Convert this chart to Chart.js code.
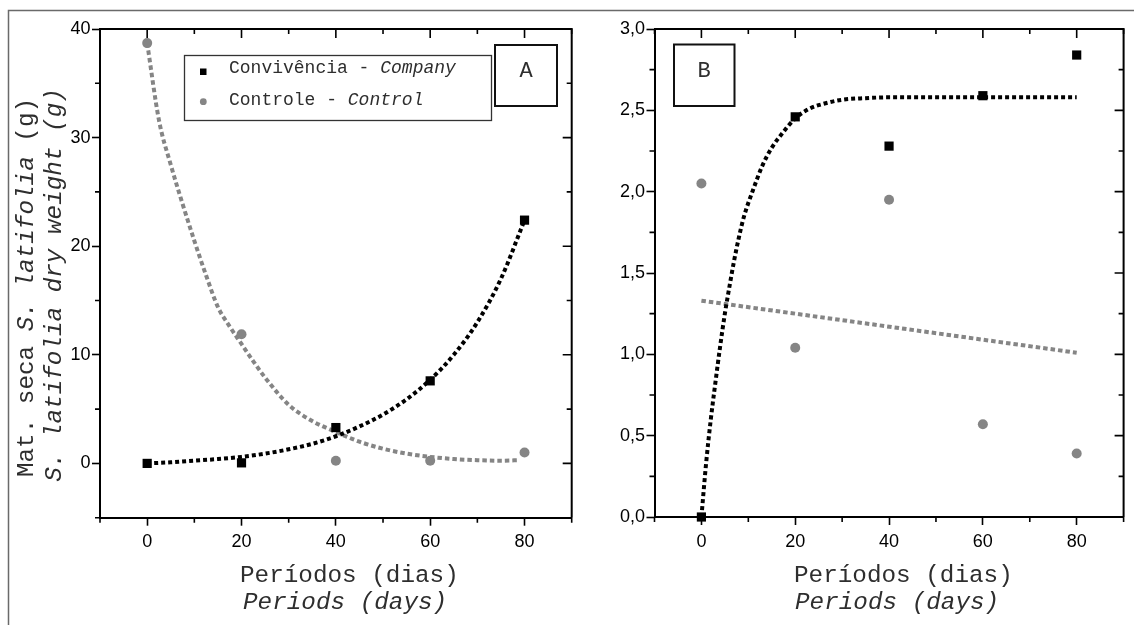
<!DOCTYPE html>
<html><head><meta charset="utf-8">
<script src="https://cdn.jsdelivr.net/npm/chart.js@4.4.1/dist/chart.umd.min.js"></script>
<style>
html,body{margin:0;padding:0;background:#fff;}
#wrap{position:relative;width:1134px;height:625px;overflow:hidden;background:#fff;}
canvas{position:absolute;left:0;top:0;}
</style>
</head><body>
<div id="wrap"><canvas id="cA" width="1134" height="625"></canvas><canvas id="cB" width="1134" height="625"></canvas></div>
<script>
// ---- observed points ----
const days = [0, 20, 40, 60, 80];
const aCompany = [0, 0.05, 3.3, 7.6, 22.4];
const aControl = [38.7, 11.9, 0.25, 0.25, 1.0];
const bCompany = [0, 2.46, 2.28, 2.59, 2.84];
const bControl = [2.05, 1.04, 1.95, 0.57, 0.39];

// ---- fitted curves ----
const aCompanyFitX = [0, 5, 10, 15, 20, 25, 30, 35, 40, 45, 50, 55, 60, 65, 70, 75, 80];
const aCompanyFitY = [0, 0.1, 0.25, 0.4, 0.6, 0.9, 1.3, 1.8, 2.5, 3.4, 4.5, 5.9, 7.7, 10.0, 13.0, 17.0, 22.4];
const aControlFitX = [0, 2.5, 5, 7.5, 10, 12.5, 15, 17.5, 20, 22.5, 25, 30, 35, 40, 45, 50, 55, 60, 65, 70, 75, 79];
const aControlFitY = [38.7, 31.6, 27.5, 23.9, 20.5, 17.3, 14.4, 12.6, 11.0, 9.4, 7.9, 5.4, 3.9, 2.9, 2.0, 1.35, 0.9, 0.6, 0.4, 0.3, 0.25, 0.3];
const bCompanyFitX = [0, 1, 2, 3, 4, 5, 6, 7, 8, 9, 11, 13, 15, 17, 20, 23, 26, 30, 35, 40, 60, 80];
const bCompanyFitY = [0, 0.33, 0.6, 0.83, 1.05, 1.25, 1.42, 1.58, 1.72, 1.84, 2.01, 2.16, 2.27, 2.35, 2.45, 2.51, 2.54, 2.565, 2.575, 2.58, 2.58, 2.58];
const bControlFitX = [0, 80];
const bControlFitY = [1.33, 1.01];

// ---- ticks ----
const xTicks = [0, 20, 40, 60, 80];
const xMinorTicks = [-10, 10, 30, 50, 70, 90];
const aYTicks = [0, 10, 20, 30, 40];
const aYMinorTicks = [-5, 5, 15, 25, 35];
const bYTicks = [0, 0.5, 1, 1.5, 2, 2.5, 3];
const bYMinorTicks = [0.25, 0.75, 1.25, 1.75, 2.25, 2.75];

const MONO = '"Liberation Mono", "DejaVu Sans Mono", monospace';
const SANS = '"Liberation Sans", Arial, sans-serif';
const GRAY = '#858585';
const TXT = '#2e2e2e';

function pts(xs, ys) { return xs.map((x, i) => ({x: x, y: ys[i]})); }

function richWidth(ctx, parts, size) {
  let w = 0;
  for (const [t, it] of parts) { ctx.font = (it ? 'italic ' : '') + size + 'px ' + MONO; w += ctx.measureText(t).width; }
  return w;
}
function drawRich(ctx, parts, x, y, size, align) {
  const w = richWidth(ctx, parts, size);
  let cx = align === 'center' ? x - w / 2 : x;
  ctx.textAlign = 'left'; ctx.textBaseline = 'alphabetic'; ctx.fillStyle = TXT;
  for (const [t, it] of parts) {
    ctx.font = (it ? 'italic ' : '') + size + 'px ' + MONO;
    ctx.fillText(t, cx, y);
    cx += ctx.measureText(t).width;
  }
}

const boxTicks = {
  id: 'boxTicks',
  afterDraw(chart, args, o) {
    const ctx = chart.ctx, ca = chart.chartArea, xs = chart.scales.x, ys = chart.scales.y;
    ctx.save();
    ctx.strokeStyle = '#000';
    ctx.lineWidth = 2;
    ctx.beginPath();
    ctx.moveTo(ca.left, ca.top); ctx.lineTo(ca.right, ca.top); ctx.lineTo(ca.right, ca.bottom);
    ctx.stroke();
    ctx.lineWidth = 1.6;
    ctx.beginPath();
    for (const v of o.xMajor) { const p = xs.getPixelForValue(v); ctx.moveTo(p, ca.top); ctx.lineTo(p, ca.top + 9); }
    for (const v of o.xMinor) {
      const p = xs.getPixelForValue(v);
      ctx.moveTo(p, ca.top); ctx.lineTo(p, ca.top + 5);
      ctx.moveTo(p, ca.bottom); ctx.lineTo(p, ca.bottom + 5);
    }
    for (const v of o.yMajor) { const p = ys.getPixelForValue(v); ctx.moveTo(ca.right, p); ctx.lineTo(ca.right - 9, p); }
    for (const v of o.yMinor) {
      const p = ys.getPixelForValue(v);
      ctx.moveTo(ca.right, p); ctx.lineTo(ca.right - 5, p);
      ctx.moveTo(ca.left, p); ctx.lineTo(ca.left - 5, p);
    }
    ctx.stroke();
    ctx.restore();
  }
};

const annotA = {
  id: 'annotA',
  afterDraw(chart) {
    const ctx = chart.ctx;
    ctx.save();
    // outer frame
    ctx.strokeStyle = '#6a6a6a'; ctx.lineWidth = 1.5;
    ctx.beginPath(); ctx.moveTo(8.5, 625); ctx.lineTo(8.5, 10.5); ctx.lineTo(1134, 10.5); ctx.stroke();
    // y titles
    ctx.save(); ctx.translate(33, 287.5); ctx.rotate(-Math.PI / 2);
    drawRich(ctx, [['Mat. seca ', false], ['S. latifolia', true], [' (g)', false]], 0, 0, 24.3, 'center');
    ctx.restore();
    ctx.save(); ctx.translate(61, 285); ctx.rotate(-Math.PI / 2);
    drawRich(ctx, [['S. latifolia dry weight (g)', true]], 0, 0, 24.3, 'center');
    ctx.restore();
    // x titles
    drawRich(ctx, [['Períodos (dias)', false]], 240, 581.5, 24.3, 'left');
    drawRich(ctx, [['Periods (days)', true]], 243, 608.5, 24.3, 'left');
    // legend
    ctx.strokeStyle = '#333'; ctx.lineWidth = 1.3;
    ctx.strokeRect(184.5, 55.5, 307, 65);
    ctx.fillStyle = '#000'; ctx.fillRect(200, 68.5, 6.5, 6.5);
    ctx.fillStyle = GRAY; ctx.beginPath(); ctx.arc(203.3, 101.7, 3.4, 0, Math.PI * 2); ctx.fill();
    drawRich(ctx, [['Convivência - ', false], ['Company', true]], 229, 72.5, 18, 'left');
    drawRich(ctx, [['Controle - ', false], ['Control', true]], 229, 104.5, 18, 'left');
    // A box
    ctx.strokeStyle = '#111'; ctx.lineWidth = 2;
    ctx.strokeRect(495, 45, 62, 61);
    drawRich(ctx, [['A', false]], 526, 76.5, 22, 'center');
    ctx.restore();
  }
};

const annotB = {
  id: 'annotB',
  afterDraw(chart) {
    const ctx = chart.ctx;
    ctx.save();
    drawRich(ctx, [['Períodos (dias)', false]], 794, 581.5, 24.3, 'left');
    drawRich(ctx, [['Periods (days)', true]], 795, 608.5, 24.3, 'left');
    ctx.strokeStyle = '#111'; ctx.lineWidth = 2;
    ctx.strokeRect(674, 44.5, 60.5, 61.5);
    drawRich(ctx, [['B', false]], 704, 77, 22, 'center');
    ctx.restore();
  }
};

function makeChart(id, cfg) {
  return new Chart(document.getElementById(id), {
    data: { datasets: [
      { type: 'scatter', data: pts(days, cfg.company), pointStyle: 'rect', pointRadius: 6.5, backgroundColor: '#000', borderWidth: 0, clip: false },
      { type: 'scatter', data: pts(days, cfg.control), pointStyle: 'circle', pointRadius: 5, backgroundColor: GRAY, borderWidth: 0, clip: false },
      { type: 'line', data: pts(cfg.cFitX, cfg.cFitY), borderColor: '#000', borderWidth: 4, borderDash: [4, 3], borderCapStyle: 'butt', pointRadius: 0, cubicInterpolationMode: 'monotone', fill: false },
      { type: 'line', data: pts(cfg.kFitX, cfg.kFitY), borderColor: GRAY, borderWidth: 4, borderDash: [4.5, 3], borderCapStyle: 'butt', pointRadius: 0, cubicInterpolationMode: 'monotone', fill: false }
    ]},
    options: {
      responsive: false, animation: false, devicePixelRatio: 1,
      layout: { padding: cfg.padding },
      plugins: { legend: { display: false }, tooltip: { enabled: false }, boxTicks: { xMajor: xTicks, xMinor: xMinorTicks, yMajor: cfg.yTicks, yMinor: cfg.yMinor } },
      scales: {
        x: {
          type: 'linear', position: 'bottom', min: -10, max: 90,
          afterBuildTicks: s => { s.ticks = xTicks.map(v => ({ value: v })); },
          afterFit: s => { s.height = cfg.xHeight; },
          ticks: { font: { family: SANS, size: 18 }, color: '#000', padding: 6, maxRotation: 0 },
          grid: { drawOnChartArea: false, drawTicks: true, tickLength: 8, tickColor: '#000', tickWidth: 1.6 },
          border: { display: true, color: '#000', width: 2 }
        },
        y: {
          type: 'linear', position: 'left', min: cfg.yMin, max: cfg.yMax,
          afterBuildTicks: s => { s.ticks = cfg.yTicks.map(v => ({ value: v })); },
          afterFit: s => { s.width = cfg.yWidth; },
          ticks: { font: { family: SANS, size: 18 }, color: '#000', padding: 1.5, callback: cfg.fmt },
          grid: { drawOnChartArea: false, drawTicks: true, tickLength: 8, tickColor: '#000', tickWidth: 1.6 },
          border: { display: true, color: '#000', width: 2 }
        }
      }
    },
    plugins: [boxTicks, cfg.annot]
  });
}

makeChart('cA', {
  company: aCompany, control: aControl,
  cFitX: aCompanyFitX, cFitY: aCompanyFitY, kFitX: aControlFitX, kFitY: aControlFitY,
  yMin: -5, yMax: 40, yTicks: aYTicks, yMinor: aYMinorTicks,
  padding: { left: 0, top: 29, right: 1134 - 571.7, bottom: 0 },
  xHeight: 107.3, yWidth: 100,
  fmt: v => String(v), annot: annotA
});
makeChart('cB', {
  company: bCompany, control: bControl,
  cFitX: bCompanyFitX, cFitY: bCompanyFitY, kFitX: bControlFitX, kFitY: bControlFitY,
  yMin: 0, yMax: 3, yTicks: bYTicks, yMinor: bYMinorTicks,
  padding: { left: 600, top: 29, right: 1134 - 1123.6, bottom: 0 },
  xHeight: 108, yWidth: 54.5,
  fmt: v => Number(v).toFixed(1).replace('.', ','), annot: annotB
});
</script>
</body></html>
